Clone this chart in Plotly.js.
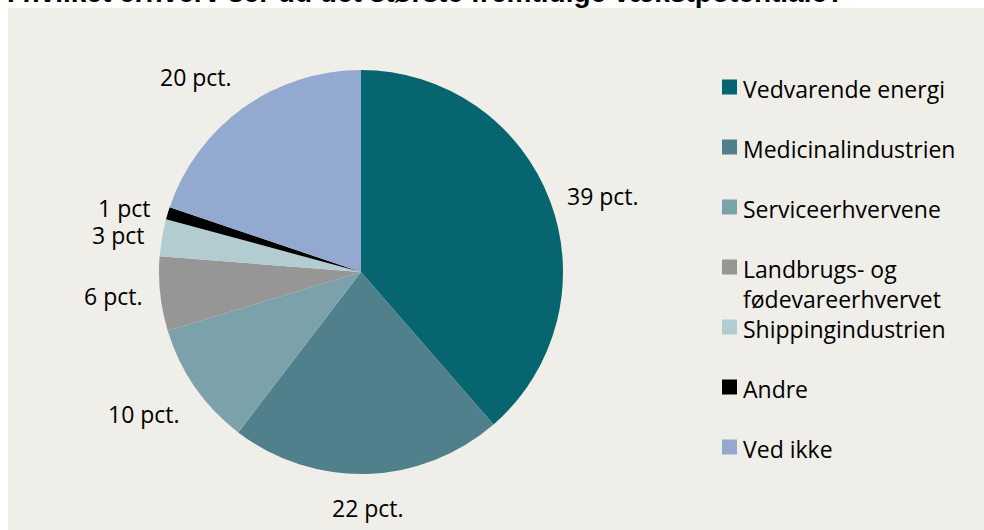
<!DOCTYPE html>
<html>
<head>
<meta charset="utf-8">
<script src="https://cdn.plot.ly/plotly-3.0.1.min.js"></script>
<style>html,body{margin:0;padding:0;background:#fff;}#chart{width:984px;height:530px;}</style>
</head>
<body>
<div id="chart"></div>
<script>
const titleText = "I hvilket erhverv ser du det største fremtidige vækstpotentiale?";
const categories = ["Vedvarende energi", "Medicinalindustrien", "Serviceerhvervene", "Landbrugs- og<br>fødevareerhvervet", "Shippingindustrien", "Andre", "Ved ikke"];
const values = [39, 22, 10, 6, 3, 1, 20];
const valueLabels = ["39 pct.", "22 pct.", "10 pct.", "6 pct.", "3 pct", "1 pct", "20 pct."];
const colors = ["#06656F", "#4F808B", "#7BA2AA", "#969696", "#B3CCD2", "#000000", "#93A9D0"];

const W = 984, H = 530;
const px = x => x / W;
const py = y => 1 - y / H;
const FONT = "Open Sans, Liberation Sans, Arial, sans-serif";
const FS = 23;

// pie placement (pixels)
const cx = 361, cy = 272, R = 202;

const trace = {
  type: "pie",
  labels: categories,
  values: values,
  textinfo: "none",
  sort: false,
  direction: "clockwise",
  rotation: 0,
  marker: {colors: colors, line: {width: 0}},
  domain: {x: [px(cx - R), px(cx + R)], y: [py(cy + R), py(cy - R)]},
  showlegend: false,
  hoverinfo: "label+percent"
};

const shapes = [{
  type: "rect", xref: "paper", yref: "paper", layer: "below",
  x0: px(8), x1: 1, y0: 0, y1: py(8),
  fillcolor: "#EFEEE8", line: {width: 0}
}];
const annotations = [{
  xref: "paper", yref: "paper", x: px(5), y: py(10), xanchor: "left", yanchor: "bottom",
  text: "<b>" + titleText + "</b>", showarrow: false,
  font: {family: "Liberation Sans, Arial, sans-serif", size: 28, color: "#000"}
}];

// data labels placed outside the pie, derived from slice mid-angles
const total = values.reduce((a, b) => a + b, 0);
let cum = 0;
values.forEach((v, i) => {
  const a = 2 * Math.PI * (cum + v / 2) / total;
  cum += v;
  const dx = Math.sin(a), dy = -Math.cos(a);
  const r = R * 1.08;
  annotations.push({
    xref: "paper", yref: "paper",
    x: px(cx + r * dx), y: py(cy + r * dy),
    xanchor: dx > 0.3 ? "left" : (dx < -0.3 ? "right" : "center"),
    yanchor: dy < -0.5 ? "bottom" : (dy > 0.5 ? "top" : "middle"),
    showarrow: false, text: valueLabels[i],
    font: {family: FONT, size: FS, color: "#000"}
  });
});

// manual legend
const legX = 722, legTextX = 741, legY0 = 87, legStep = 60, sq = 15;
categories.forEach((c, i) => {
  const ly = legY0 + legStep * i;
  shapes.push({
    type: "rect", xref: "paper", yref: "paper",
    x0: px(legX), x1: px(legX + sq), y0: py(ly + sq / 2), y1: py(ly - sq / 2),
    fillcolor: colors[i], line: {width: 0}
  });
  annotations.push({
    xref: "paper", yref: "paper", x: px(legTextX), y: py(ly - 16),
    xanchor: "left", yanchor: "top", align: "left", showarrow: false,
    text: c, font: {family: FONT, size: FS, color: "#000"}
  });
});

const layout = {
  width: W, height: H,
  margin: {l: 0, r: 0, t: 0, b: 0},
  paper_bgcolor: "#ffffff",
  plot_bgcolor: "rgba(0,0,0,0)",
  showlegend: false,
  shapes: shapes,
  annotations: annotations
};

Plotly.newPlot("chart", [trace], layout, {displayModeBar: false, staticPlot: true});
</script>
</body>
</html>
